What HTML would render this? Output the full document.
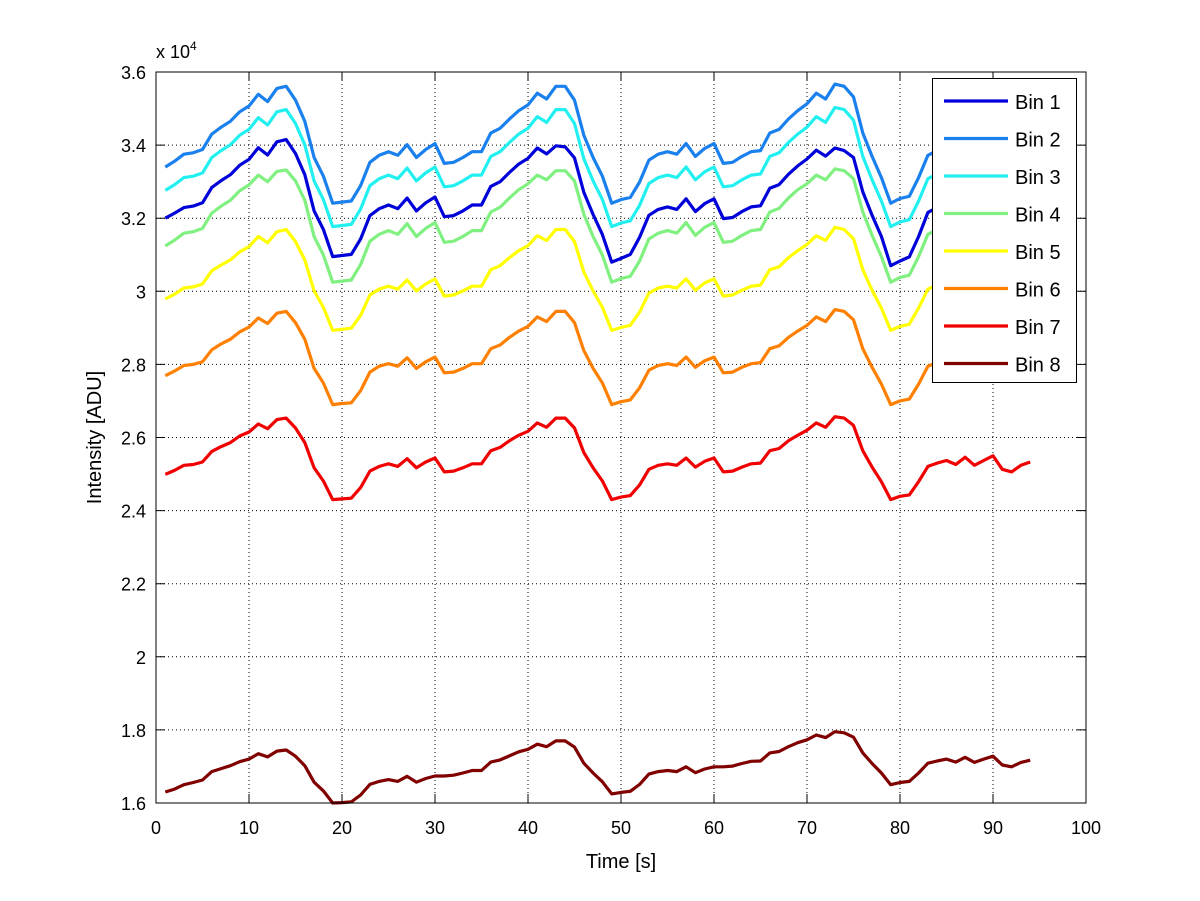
<!DOCTYPE html>
<html><head><meta charset="utf-8"><style>
html,body{margin:0;padding:0;background:#fff;}
svg{display:block;font-family:"Liberation Sans",sans-serif;}
</style></head><body>
<svg id="chart" width="1200" height="901" viewBox="0 0 1200 901" xmlns="http://www.w3.org/2000/svg">
<rect x="0" y="0" width="1200" height="901" fill="#fff"/>
<g id="grid"></g>
<g id="series"></g>
<g id="axes"></g>
<g id="legend"></g>
</svg>
<script>
const xTicks=[0,10,20,30,40,50,60,70,80,90,100];
const yTicks=[1.6,1.8,2,2.2,2.4,2.6,2.8,3,3.2,3.4,3.6];
const yTickLabels=["1.6","1.8","2","2.2","2.4","2.6","2.8","3","3.2","3.4","3.6"];
const seriesNames=["Bin 1","Bin 2","Bin 3","Bin 4","Bin 5","Bin 6","Bin 7","Bin 8"];
const seriesColors=["#0000d8","#1a80ee","#22f0f0","#80f080","#ffff00","#ff8000","#f00000","#800000"];
const bin1=[3.200,3.214,3.229,3.233,3.242,3.284,3.303,3.319,3.345,3.361,3.393,3.373,3.409,3.415,3.377,3.319,3.220,3.169,3.095,3.098,3.101,3.143,3.207,3.226,3.236,3.226,3.255,3.220,3.242,3.258,
3.204,3.207,3.220,3.236,3.236,3.287,3.300,3.325,3.348,3.364,3.392,3.376,3.398,3.395,3.365,3.271,3.210,3.155,3.080,3.090,3.101,3.148,3.208,3.224,3.231,3.224,3.253,3.218,3.240,3.253,
3.199,3.202,3.218,3.231,3.234,3.282,3.292,3.320,3.343,3.362,3.386,3.370,3.392,3.385,3.366,3.272,3.208,3.150,3.070,3.083,3.094,3.150,3.216,3.229,3.239,3.223,3.251,3.219,3.239,3.258,3.203,3.194,3.219,3.232];
const bin2=[3.340,3.356,3.375,3.379,3.388,3.430,3.449,3.465,3.491,3.507,3.539,3.519,3.555,3.561,3.523,3.465,3.366,3.315,3.241,3.244,3.247,3.289,3.353,3.372,3.382,3.372,3.401,3.366,3.388,3.404,
3.350,3.353,3.366,3.382,3.382,3.433,3.446,3.471,3.494,3.510,3.542,3.526,3.561,3.561,3.523,3.427,3.366,3.315,3.241,3.251,3.257,3.299,3.359,3.375,3.382,3.375,3.404,3.369,3.391,3.404,
3.350,3.353,3.369,3.382,3.385,3.433,3.443,3.471,3.494,3.513,3.542,3.526,3.567,3.561,3.532,3.433,3.369,3.311,3.241,3.254,3.260,3.311,3.372,3.385,3.395,3.379,3.407,3.375,3.395,3.414,3.359,3.350,3.375,3.388];
const bin3=[3.276,3.292,3.311,3.315,3.324,3.366,3.385,3.401,3.427,3.443,3.475,3.455,3.491,3.497,3.459,3.401,3.302,3.251,3.177,3.180,3.183,3.225,3.289,3.308,3.318,3.308,3.337,3.302,3.324,3.340,
3.286,3.289,3.302,3.318,3.318,3.369,3.382,3.407,3.430,3.446,3.478,3.462,3.497,3.497,3.459,3.363,3.302,3.251,3.177,3.187,3.193,3.235,3.295,3.311,3.318,3.311,3.340,3.305,3.327,3.340,
3.286,3.289,3.305,3.318,3.321,3.369,3.379,3.407,3.430,3.449,3.478,3.462,3.503,3.497,3.468,3.369,3.305,3.247,3.177,3.190,3.196,3.247,3.308,3.321,3.331,3.315,3.343,3.311,3.331,3.350,3.295,3.286,3.311,3.324];
const bin4=[3.124,3.140,3.159,3.163,3.172,3.214,3.233,3.249,3.275,3.291,3.318,3.300,3.328,3.332,3.302,3.249,3.150,3.099,3.025,3.028,3.031,3.073,3.137,3.156,3.166,3.156,3.185,3.150,3.172,3.188,
3.134,3.137,3.150,3.166,3.166,3.217,3.230,3.255,3.278,3.294,3.318,3.305,3.330,3.330,3.302,3.211,3.150,3.099,3.025,3.035,3.041,3.083,3.143,3.159,3.166,3.159,3.188,3.153,3.175,3.188,
3.134,3.137,3.153,3.166,3.169,3.217,3.227,3.255,3.278,3.294,3.318,3.305,3.335,3.330,3.308,3.217,3.153,3.095,3.025,3.038,3.044,3.095,3.156,3.169,3.179,3.163,3.191,3.159,3.179,3.198,3.143,3.134,3.159,3.172];
const bin5=[2.979,2.992,3.009,3.012,3.020,3.056,3.072,3.086,3.108,3.122,3.150,3.133,3.163,3.169,3.136,3.086,3.001,2.956,2.893,2.896,2.899,2.934,2.990,3.006,3.014,3.006,3.031,3.001,3.020,3.034,
2.987,2.990,3.001,3.014,3.014,3.059,3.070,3.092,3.111,3.125,3.152,3.139,3.169,3.169,3.136,3.053,3.001,2.956,2.893,2.901,2.907,2.943,2.995,3.009,3.014,3.009,3.034,3.003,3.023,3.034,
2.987,2.990,3.003,3.014,3.017,3.059,3.067,3.092,3.111,3.128,3.152,3.139,3.175,3.169,3.144,3.059,3.003,2.954,2.893,2.904,2.910,2.954,3.006,3.017,3.025,3.012,3.037,3.009,3.025,3.042,2.995,2.987,3.009,3.020];
const bin6=[2.769,2.782,2.797,2.800,2.807,2.840,2.856,2.869,2.889,2.902,2.927,2.912,2.940,2.945,2.914,2.869,2.789,2.749,2.690,2.693,2.695,2.728,2.779,2.795,2.802,2.795,2.818,2.789,2.807,2.820,
2.777,2.779,2.789,2.802,2.802,2.843,2.853,2.874,2.891,2.904,2.930,2.917,2.945,2.945,2.914,2.838,2.789,2.749,2.690,2.698,2.703,2.736,2.784,2.797,2.802,2.797,2.820,2.792,2.810,2.820,
2.777,2.779,2.792,2.802,2.805,2.843,2.851,2.874,2.891,2.907,2.930,2.917,2.950,2.945,2.922,2.843,2.792,2.746,2.690,2.700,2.705,2.746,2.795,2.805,2.812,2.800,2.823,2.797,2.812,2.828,2.784,2.777,2.797,2.807];
const bin7=[2.499,2.510,2.524,2.526,2.533,2.562,2.575,2.586,2.604,2.615,2.637,2.624,2.649,2.653,2.626,2.586,2.517,2.481,2.430,2.432,2.434,2.463,2.508,2.521,2.528,2.521,2.542,2.517,2.533,2.544,
2.506,2.508,2.517,2.528,2.528,2.564,2.573,2.591,2.606,2.617,2.640,2.628,2.653,2.653,2.626,2.559,2.517,2.481,2.430,2.437,2.441,2.470,2.513,2.524,2.528,2.524,2.544,2.519,2.535,2.544,
2.506,2.508,2.519,2.528,2.530,2.564,2.570,2.591,2.606,2.620,2.640,2.628,2.657,2.653,2.633,2.564,2.519,2.479,2.430,2.439,2.443,2.479,2.521,2.530,2.537,2.526,2.546,2.524,2.537,2.550,2.513,2.506,2.524,2.533];
const bin8=[1.630,1.638,1.650,1.656,1.663,1.686,1.694,1.702,1.713,1.720,1.735,1.726,1.742,1.745,1.728,1.702,1.657,1.633,1.600,1.601,1.603,1.622,1.651,1.659,1.664,1.659,1.673,1.657,1.667,1.674,
1.674,1.676,1.682,1.689,1.689,1.712,1.718,1.729,1.740,1.747,1.761,1.754,1.770,1.770,1.753,1.709,1.682,1.658,1.625,1.629,1.632,1.651,1.679,1.686,1.689,1.686,1.699,1.683,1.693,1.699,
1.699,1.701,1.708,1.714,1.715,1.737,1.741,1.754,1.765,1.773,1.786,1.779,1.795,1.792,1.780,1.737,1.708,1.682,1.650,1.656,1.659,1.682,1.709,1.715,1.720,1.712,1.725,1.711,1.720,1.728,1.704,1.699,1.711,1.717];
const seriesData=[bin1,bin2,bin3,bin4,bin5,bin6,bin7,bin8];

const NS="http://www.w3.org/2000/svg";
const L=156,R=1086,T=72,B=803;
const xMin=0,xMax=100,yMin=1.6,yMax=3.6;
function xs(v){return L+(v-xMin)/(xMax-xMin)*(R-L);}
function ys(v){return B-(v-yMin)/(yMax-yMin)*(B-T);}
function mk(tag,attrs,parent){const e=document.createElementNS(NS,tag);for(const k in attrs)e.setAttribute(k,attrs[k]);parent.appendChild(e);return e;}

const grid=document.getElementById('grid');
const axes=document.getElementById('axes');
const series=document.getElementById('series');
const legend=document.getElementById('legend');

xTicks.forEach((t,i)=>{
  const x=xs(t);
  if(t>xMin&&t<xMax){
    const g=mk('line',{x1:x,y1:T,x2:x,y2:B,stroke:'#000','stroke-width':1,'stroke-dasharray':'1,3'},grid);
    
    
  }
  const tk=mk('path',{d:`M${x},${B}v-9M${x},${T}v9`,stroke:'#000','stroke-width':1},axes);
  
  
  const lb=mk('text',{x:x,y:B+31,'text-anchor':'middle','font-size':18,fill:'#000'},axes);
  lb.textContent=String(t);
  
  
});
yTicks.forEach((t,i)=>{
  const y=ys(t);
  if(i>0&&i<yTicks.length-1){
    const g=mk('line',{x1:L,y1:y,x2:R,y2:y,stroke:'#000','stroke-width':1,'stroke-dasharray':'1,3'},grid);
    
    
  }
  const tk=mk('path',{d:`M${L},${y}h9M${R},${y}h-9`,stroke:'#000','stroke-width':1},axes);
  
  
  const lb=mk('text',{x:L-10,y:y+7,'text-anchor':'end','font-size':18,fill:'#000'},axes);
  lb.textContent=yTickLabels[i];
  
  
});
const box=mk('rect',{x:L,y:T,width:R-L,height:B-T,fill:'none',stroke:'#000','stroke-width':1},axes);



seriesData.forEach((arr,si)=>{
  const d=arr.map((v,i)=>(i?'L':'M')+xs(i+1).toFixed(1)+','+ys(v).toFixed(1)).join('');
  const p=mk('path',{d:d,fill:'none',stroke:seriesColors[si],'stroke-width':3.2,'stroke-linejoin':'round'},series);
  
  
});

const exp=mk('text',{x:L,y:58,'font-size':18,fill:'#000'},axes);


exp.innerHTML='x 10<tspan dy="-8" font-size="12">4</tspan>';
const xt=mk('text',{x:(L+R)/2,y:868,'text-anchor':'middle','font-size':20,fill:'#000'},axes);
xt.textContent='Time [s]';


const yt=mk('text',{x:0,y:0,'text-anchor':'middle','font-size':20,fill:'#000',transform:`translate(101,${(T+B)/2}) rotate(-90)`},axes);
yt.textContent='Intensity [ADU]';



const lb=mk('rect',{x:932.5,y:78.5,width:144,height:304,fill:'#fff',stroke:'#000','stroke-width':1},legend);


seriesNames.forEach((n,i)=>{
  const y=101+i*37.5;
  const ln=mk('line',{x1:944,y1:y,x2:1008,y2:y,stroke:seriesColors[i],'stroke-width':3.2},legend);
  
  
  const tx=mk('text',{x:1015,y:y+8,'font-size':20,fill:'#000'},legend);
  tx.textContent=n;
  
  
});
</script>
</body></html>
